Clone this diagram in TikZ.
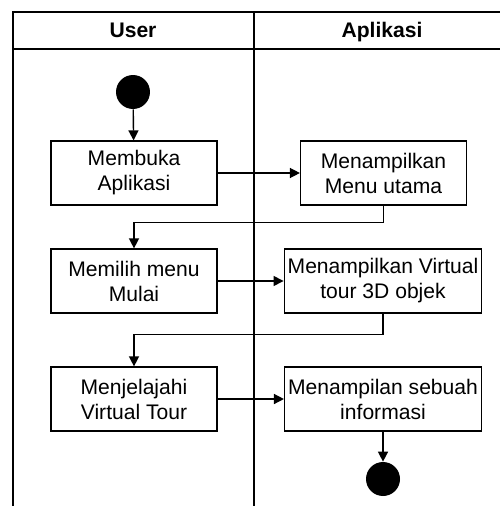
\documentclass[tikz,border=0pt]{standalone}
\usepackage{fontspec}
\setmainfont{Liberation Sans}
\usetikzlibrary{arrows.meta}

\tikzset{
 act/.style={draw,line width=0.7pt,minimum width=3.32cm,minimum height=1.28cm,inner sep=2pt,align=center,font=\fontsize{12}{14.2}\selectfont},
 flow/.style={-{Triangle[length=2mm,width=2mm]},line width=0.8pt},
 dot/.style={circle,fill=black,minimum size=0.68cm,inner sep=0pt},
 lane/.style={line width=0.9pt},
 head/.style={anchor=base,font=\fontsize{12}{14.2}\selectfont\bfseries}
}

\begin{document}
\begin{tikzpicture}[x=0.02cm,y=-0.02cm]
\useasboundingbox (0,0) rectangle (500,506);
% swimlanes
 \draw[lane] (13,506)--(13,12)--(500,12);
 \draw[lane] (13,49)--(500,49);
 \draw[lane] (254,12)--(254,506);
 \node[head] (user) at (133,38) {User};
 \node[head] (app) at (382,38) {Aplikasi};
% activities
 \node[dot] (start) at (133,92) {};
 \node[act] (membuka) at (134,173) {Membuka\\Aplikasi};
 \node[act] (menu) at (383.5,173) {Menampilkan\\Menu utama};
 \node[act] (pilih) at (134,281) {Memilih menu\\Mulai};
 \node[act,minimum width=3.92cm] (virtual) at (383,281) {Menampilkan Virtual\\tour 3D objek};
 \node[act] (jelajah) at (134,399) {Menjelajahi\\Virtual Tour};
 \node[act,minimum width=3.92cm] (info) at (383,399) {Menampilan sebuah\\informasi};
 \node[dot] (end) at (383,479) {};
% flows
 \draw[flow] (start)--(membuka);
 \draw[flow] (membuka)--(menu);
 \draw[flow] (menu.south)--++(0,17)-|(pilih.north);
 \draw[flow] (pilih)--(virtual);
 \draw[flow] (virtual.south)--++(0,21)-|(jelajah.north);
 \draw[flow] (jelajah)--(info);
 \draw[flow] (info)--(end);
\end{tikzpicture}
\end{document}
